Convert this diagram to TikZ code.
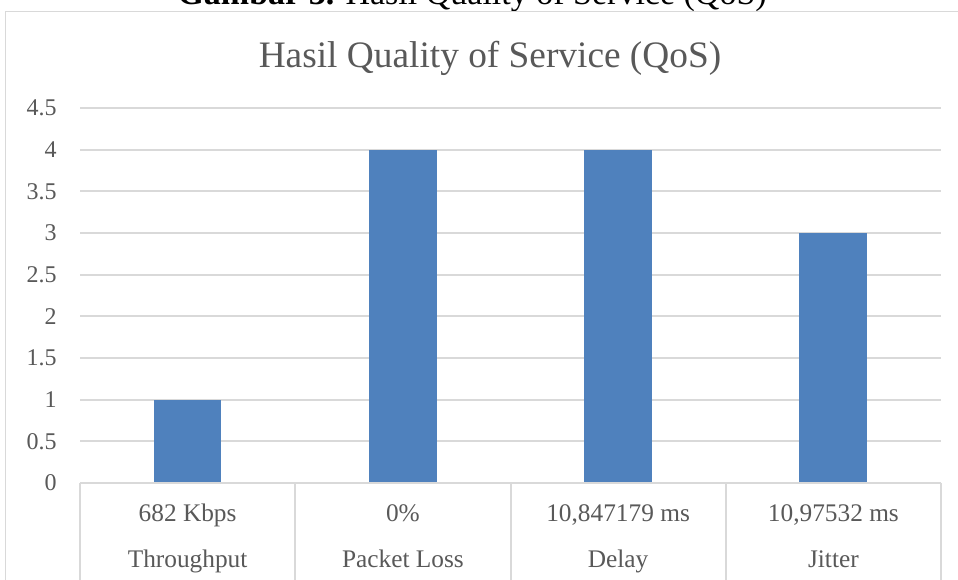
\documentclass[tikz,border=0pt]{standalone}
\usepackage{fontspec}
\setmainfont{Liberation Serif}
\definecolor{txt}{HTML}{595959}
\definecolor{grid}{HTML}{D9D9D9}
\definecolor{bar}{HTML}{4F81BD}
\tikzset{
  ylab/.style={anchor=east, text=txt, font=\fontsize{18}{20}\selectfont, inner sep=0pt},
  clab/.style={anchor=base, text=txt, font=\fontsize{19}{21}\selectfont, inner sep=0pt},
  gridline/.style={draw=grid, line width=1.5pt},
  barbox/.style={fill=bar, draw=none},
}
\begin{document}
\begin{tikzpicture}[x=0.75pt,y=-0.75pt]
\useasboundingbox (0,0) rectangle (958,580);
\clip (0,0) rectangle (958,580);
\fill[white] (0,0) rectangle (958,580);
% caption (cut off at top)
\node[anchor=base east, font=\fontsize{25.5}{28}\selectfont, inner sep=0pt] (cap) at (767,5) {\textbf{Gambar 3.} Hasil Quality of Service (QoS)};
% chart border
\draw[draw=grid, line width=1pt] (5.5,11.5) rectangle (975,600);
% title
\node[anchor=center, text=txt, font=\fontsize{28}{30}\selectfont, inner sep=0pt] (title) at (490,58) {Hasil Quality of Service (QoS)};
% gridlines and y labels
\foreach \v in {0.5,1,1.5,2,2.5,3,3.5,4,4.5}{
  \draw[gridline] (80,{483-83.33*\v}) -- (941,{483-83.33*\v});
}
\foreach \v/\lab [count=\i] in {0/0,0.5/0.5,1/1,1.5/1.5,2/2,2.5/2.5,3/3,3.5/3.5,4/4,4.5/4.5}{
  \node[ylab] (y\i) at (57,{483-83.33*\v}) {\lab};
}
% bars
\fill[barbox] (154,483) rectangle (221,{483-83.33*1});
\fill[barbox] (369,483) rectangle (437,{483-83.33*4});
\fill[barbox] (584,483) rectangle (652,{483-83.33*4});
\fill[barbox] (799,483) rectangle (867,{483-83.33*3});
% category axis
\draw[gridline] (80,483) -- (941,483);
\foreach \x in {80,295.25,510.5,725.75,941}{
  \draw[gridline] (\x,483) -- (\x,590);
}
% category labels
\node[clab] (c1a) at (187.6,522) {682 Kbps};
\node[clab] (c2a) at (402.9,522) {0\%};
\node[clab] (c3a) at (618.1,522) {10,847179 ms};
\node[clab] (c4a) at (833.4,522) {10,97532 ms};
\node[clab] (c1b) at (187.6,568) {Throughput};
\node[clab] (c2b) at (402.9,568) {Packet Loss};
\node[clab] (c3b) at (618.1,568) {Delay};
\node[clab] (c4b) at (833.4,568) {Jitter};
\end{tikzpicture}
\end{document}
